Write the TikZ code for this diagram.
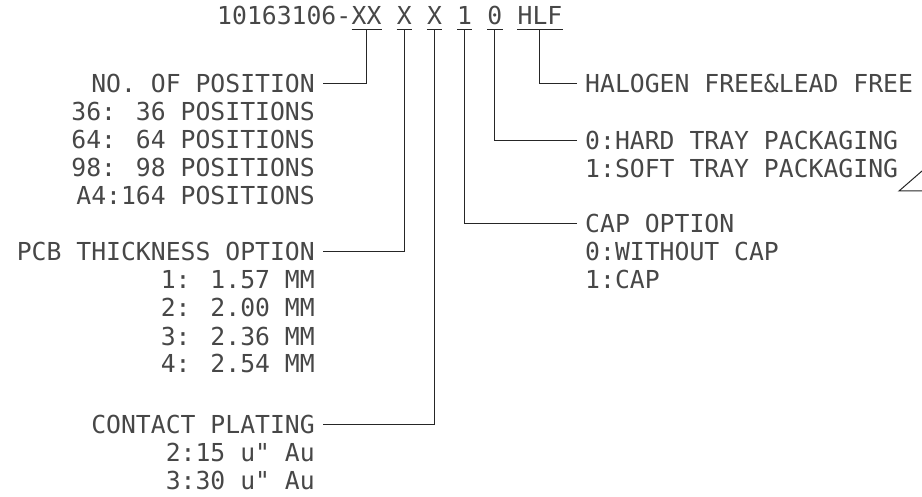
\documentclass[tikz,border=0pt]{standalone}
\usepackage{fontspec}
\newfontfamily\cadfont{DejaVu Sans Mono}
\usetikzlibrary{positioning}
\tikzset{
  cad/.style={font=\cadfont\fontsize{24.75}{28}\selectfont,text=black!72,text height=18pt,text depth=0pt},
  lbl/.style={cad,inner xsep=8pt,inner ysep=0pt},
  field/.style={cad,inner xsep=0pt,inner ysep=4pt},
  lead/.style={line width=1pt,black!85},
}
\begin{document}
\begin{tikzpicture}[x=1pt,y=-1pt]
\useasboundingbox (0,0) rectangle (922,497);
% part number with underlined option fields
\node[field,anchor=base west] (pn) at (217,25) {10163106-};
\node[field,right=0pt of pn] (fxx) {XX};
\node[field,right=14.9pt of fxx] (fth) {X};
\node[field,right=14.9pt of fth] (fpl) {X};
\node[field,right=14.9pt of fpl] (fcap) {1};
\node[field,right=14.9pt of fcap] (fpkg) {0};
\node[field,right=14.9pt of fpkg] (fhlf) {HLF};
\foreach \f in {fxx,fth,fpl,fcap,fpkg,fhlf} {\draw[lead] (\f.south west) -- (\f.south east);}
% left side: headings and option lists
\node[lbl,anchor=base east] (npos) at (323,93) {NO. OF POSITION};
\foreach \t [count=\i] in {36: 36 POSITIONS,64: 64 POSITIONS,98: 98 POSITIONS,A4:164 POSITIONS}
  {\node[lbl,anchor=base east] (npos\i) at (323,{93+28*\i}) {\t};}
\node[lbl,anchor=base east] (npcb) at (323,261) {PCB THICKNESS OPTION};
\foreach \t [count=\i] in {1: 1.57 MM,2: 2.00 MM,3: 2.36 MM,4: 2.54 MM}
  {\node[lbl,anchor=base east] (npcb\i) at (323,{261+28*\i}) {\t};}
\node[lbl,anchor=base east] (ncon) at (323,433) {CONTACT PLATING};
\foreach \t [count=\i] in {2:15 u" Au,3:30 u" Au}
  {\node[lbl,anchor=base east] (ncon\i) at (323,{433+28*\i}) {\t};}
% right side
\node[lbl,anchor=base west] (nhlf) at (577,93) {HALOGEN FREE\&LEAD FREE};
\node[lbl,anchor=base west] (npkg) at (577,150) {0:HARD TRAY PACKAGING};
\node[lbl,anchor=base west] (npkg1) at (577,178) {1:SOFT TRAY PACKAGING};
\node[lbl,anchor=base west] (ncap) at (577,233) {CAP OPTION};
\foreach \t [count=\i] in {0:WITHOUT CAP,1:CAP}
  {\node[lbl,anchor=base west] (ncap\i) at (577,{233+28*\i}) {\t};}
% leaders from fields to headings
\draw[lead] (npos.east) -| (fxx.south);
\draw[lead] (npcb.east) -| (fth.south);
\draw[lead] (ncon.east) -| (fpl.south);
\draw[lead] (ncap.west) -| (fcap.south);
\draw[lead] (npkg.west) -| (fpkg.south);
\draw[lead] (nhlf.west) -| (fhlf.south);
% cut-off mark at the right edge
\draw[lead] (922,171) -- (899,191) -- (922,191);
\end{tikzpicture}
\end{document}
